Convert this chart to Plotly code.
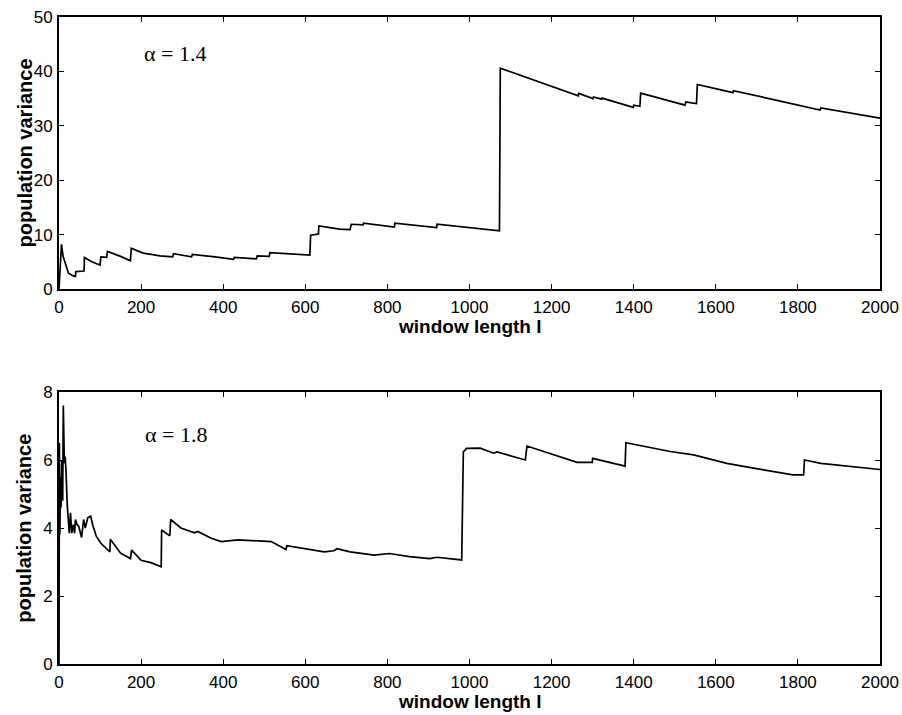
import plotly.graph_objects as go
from plotly.subplots import make_subplots

# alpha = 1.4 (top panel)
x_top = [0, 2, 6, 10, 15, 23, 35, 40, 41, 61, 62, 80, 100, 102, 116, 118, 150, 174, 176, 205, 221, 246,
         277, 279, 323, 325, 380, 425, 427, 457, 481, 483, 512, 514, 560, 611, 613, 632, 633, 684, 709,
         712, 741, 742, 817, 818, 920, 921, 1073, 1075, 1265, 1266, 1301, 1302, 1322, 1323, 1399, 1400,
         1415, 1417, 1525, 1527, 1541, 1553, 1555, 1618, 1642, 1643, 1724, 1727, 1854, 1856, 2000]
y_top = [0, 2.3, 8.2, 6.0, 4.7, 2.9, 2.4, 2.3, 3.2, 3.3, 5.8, 5.0, 4.4, 5.9, 5.8, 6.9, 6.0, 5.2, 7.5, 6.6, 6.4, 6.1,
         5.9, 6.5, 5.9, 6.35, 5.9, 5.45, 5.8, 5.6, 5.55, 6.1, 6.0, 6.7, 6.5, 6.25, 9.9, 10.1, 11.6, 11.0, 10.9,
         11.9, 11.8, 12.1, 11.4, 12.1, 11.3, 11.9, 10.7, 40.6, 35.5, 35.95, 35.0, 35.3, 34.9, 35.1, 33.4, 33.8,
         33.6, 36.0, 33.8, 34.4, 34.2, 34.1, 37.6, 36.5, 36.1, 36.45, 35.0, 35.05, 32.9, 33.3, 31.4]

# alpha = 1.8 (bottom panel)
x_bot = [0, 1, 2, 4, 5, 7, 9, 10.5, 12, 13, 15, 17, 20, 25, 28, 31, 35, 38, 40, 44, 48, 52, 55, 60, 64, 70,
         77, 83, 91, 102, 124, 125, 150, 174, 177, 200, 224, 249, 250, 270, 272, 297, 330, 338, 371, 395,
         436, 517, 553, 555, 597, 646, 670, 677, 709, 768, 805, 854, 903, 920, 981, 985, 993, 1026, 1059,
         1067, 1136, 1140, 1262, 1299, 1300, 1379, 1381, 1440, 1489, 1546, 1627, 1692, 1788, 1814, 1816,
         1856, 1916, 2000]
y_bot = [0, 6.5, 3.8, 5.5, 4.6, 6.0, 4.8, 7.6, 6.4, 5.9, 6.1, 5.7, 4.7, 3.85, 4.45, 3.85, 4.1, 3.85, 4.25, 4.1,
         4.05, 3.9, 3.72, 4.25, 4.0, 4.3, 4.35, 4.05, 3.75, 3.55, 3.3, 3.67, 3.26, 3.1, 3.35, 3.05, 2.98, 2.86,
         3.94, 3.77, 4.25, 4.0, 3.86, 3.9, 3.7, 3.6, 3.65, 3.6, 3.37, 3.48, 3.4, 3.3, 3.33, 3.39, 3.3, 3.2,
         3.25, 3.16, 3.1, 3.14, 3.06, 6.24, 6.34, 6.35, 6.2, 6.24, 6.0, 6.41, 5.93, 5.93, 6.05, 5.82, 6.51,
         6.37, 6.25, 6.15, 5.9, 5.76, 5.56, 5.56, 6.0, 5.9, 5.83, 5.72]

x_ticks = [0, 200, 400, 600, 800, 1000, 1200, 1400, 1600, 1800, 2000]
y_ticks_top = [0, 10, 20, 30, 40, 50]
y_ticks_bot = [0, 2, 4, 6, 8]

tick_font = dict(family="Liberation Sans, Arial, Helvetica", size=17, color="black")
label_font = dict(family="Liberation Sans, Arial, Helvetica", size=19, color="black")
ylabel_font = dict(family="Liberation Sans, Arial, Helvetica", size=20, color="black")
alpha_font = dict(family="Liberation Serif, Times New Roman, serif", size=22, color="black")

fig = make_subplots(rows=2, cols=1)
fig.add_trace(go.Scatter(x=x_top, y=y_top, mode="lines", line=dict(color="black", width=1.7),
                         showlegend=False), row=1, col=1)
fig.add_trace(go.Scatter(x=x_bot, y=y_bot, mode="lines", line=dict(color="black", width=1.7),
                         showlegend=False), row=2, col=1)

axis_common = dict(showline=True, linecolor="black", linewidth=2, mirror="ticks", ticks="inside",
                   ticklen=5, tickwidth=1.2, tickcolor="black", showgrid=False, zeroline=False,
                   tickfont=tick_font, automargin=False)

fig.update_xaxes(range=[0, 2000], tickvals=x_ticks, ticklabelstandoff=2, **axis_common)
fig.update_yaxes(ticklabelstandoff=1, **axis_common)
fig.update_yaxes(range=[0, 50], tickvals=y_ticks_top, row=1, col=1)
fig.update_yaxes(range=[0, 8], tickvals=y_ticks_bot, row=2, col=1)

fig.update_layout(
    width=902, height=715,
    margin=dict(l=59, r=22, t=17, b=51),
    paper_bgcolor="white", plot_bgcolor="white",
    xaxis=dict(domain=[0, 1]),
    yaxis=dict(domain=[0.5796, 1.0]),
    yaxis2=dict(domain=[0.0, 0.4204]),
)

annotations = [
    dict(text="<b>population variance</b>", x=-0.042, y=0.79, textangle=-90, font=ylabel_font),
    dict(text="<b>population variance</b>", x=-0.042, y=0.21, textangle=-90, font=ylabel_font),
    dict(text="<b>window length l</b>", x=0.5006, y=0.522, font=label_font),
    dict(text="<b>window length l</b>", x=0.5006, y=-0.0577, font=label_font),
    dict(text="α = 1.4", x=0.141, y=0.943, font=alpha_font),
    dict(text="α = 1.8", x=0.143, y=0.355, font=alpha_font),
]
for a in annotations:
    fig.add_annotation(xref="paper", yref="paper", showarrow=False, xanchor="center", yanchor="middle", **a)

fig.write_html("out.html")
